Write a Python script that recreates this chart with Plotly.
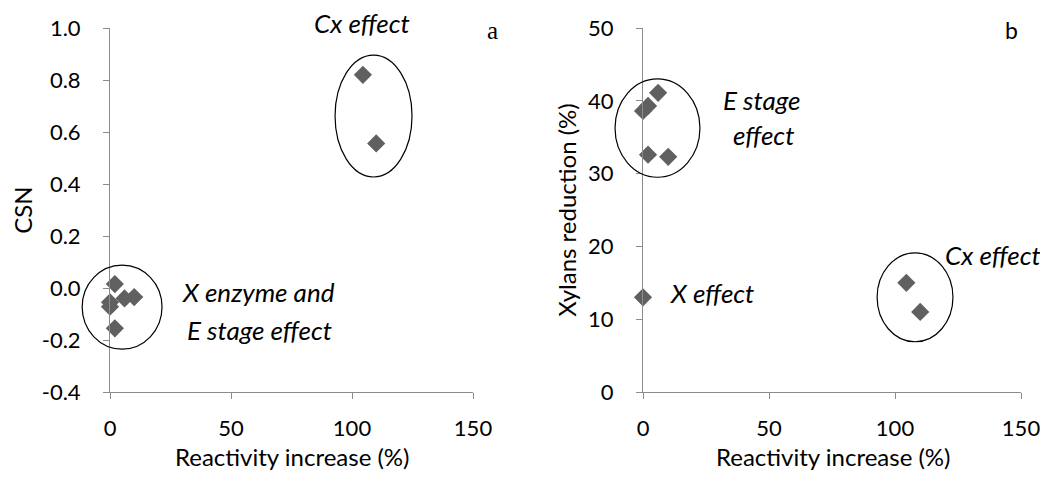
import plotly.graph_objects as go

# Panel a: reactivity increase (%) vs CSN
react_a = [2, 0, 0, 6, 10, 2, 104.5, 110]
csn_a = [0.015, -0.055, -0.072, -0.04, -0.035, -0.155, 0.82, 0.556]

# Panel b: reactivity increase (%) vs xylans reduction (%)
react_b = [6, 2, 0, 2, 10, 0, 104.5, 110]
xyl_b = [41.1, 39.3, 38.6, 32.6, 32.3, 13.0, 15.0, 11.0]

x_ticks = [0, 50, 100, 150]
y_ticks_a = [-0.4, -0.2, 0.0, 0.2, 0.4, 0.6, 0.8, 1.0]
y_ticks_b = [0, 10, 20, 30, 40, 50]

# group ellipses in data units: (x0, x1, y0, y1)
ell_a = [(-11.5, 21.5, -0.235, 0.088), (93, 124.8, 0.427, 0.896)]
ell_b = [(-11.1, 22.6, 29.5, 43.0), (92.9, 123, 6.9, 19.1)]

FONT = "Lato"
GREY = "#8c8c8c"
MARK = "#606060"
OFF = 8                      # page body margin
W, H = 1048 - OFF, 479 - 2 * OFF


def px(x):
    return (x - OFF) / W


def py(y):
    return 1 - (y - OFF) / H


xdom_a = [px(110), px(473)]
xdom_b = [px(643), px(1021)]
ydom = [py(392), py(28)]
xr = [0, 150]
yr_a = [-0.4, 1.0]
yr_b = [0, 50]


def to_paper(v, dom, rng):
    return dom[0] + (v - rng[0]) / (rng[1] - rng[0]) * (dom[1] - dom[0])


fig = go.Figure()
fig.add_trace(go.Scatter(x=react_a, y=csn_a, mode="markers", xaxis="x", yaxis="y", cliponaxis=False,
                         marker=dict(symbol="diamond", size=14, color=MARK), showlegend=False))
fig.add_trace(go.Scatter(x=react_b, y=xyl_b, mode="markers", xaxis="x2", yaxis="y2", cliponaxis=False,
                         marker=dict(symbol="diamond", size=14, color=MARK), showlegend=False))

TICK = 22
TITLE = 24
ANN = 26
axis_common = dict(showgrid=False, zeroline=False, showline=True, linecolor=GREY, linewidth=1,
                   automargin=False, ticks="outside", ticklen=6, tickcolor=GREY,
                   tickfont=dict(family=FONT, size=TICK, color="black"))

fig.update_layout(
    width=W, height=H,
    margin=dict(l=0, r=0, t=0, b=0),
    paper_bgcolor="white", plot_bgcolor="white",
    font=dict(family=FONT, size=TICK, color="black"),
    xaxis=dict(domain=xdom_a, range=xr, tickvals=x_ticks, anchor="y", ticklabelstandoff=11,
               **axis_common),
    yaxis=dict(domain=ydom, range=yr_a, tickvals=y_ticks_a,
               ticktext=[f"{v:.1f}" for v in y_ticks_a], anchor="x", ticklabelstandoff=18,
               title=dict(text="CSN", standoff=20, font=dict(family=FONT, size=TITLE)),
               **axis_common),
    xaxis2=dict(domain=xdom_b, range=xr, tickvals=x_ticks, anchor="y2", ticklabelstandoff=11,
                **axis_common),
    yaxis2=dict(domain=ydom, range=yr_b, tickvals=y_ticks_b, anchor="x2", ticklabelstandoff=18,
                title=dict(text="Xylans reduction (%)", standoff=4, font=dict(family=FONT, size=TITLE)),
                **axis_common),
)

# x-axis titles
for xc in [(110 + 473) / 2 + 1, (643 + 1021) / 2 + 1]:
    fig.add_annotation(xref="paper", yref="paper", x=px(xc), y=py(456), text="Reactivity increase (%)",
                       showarrow=False, xanchor="center", yanchor="middle",
                       font=dict(family=FONT, size=TITLE, color="black"))

ell_style = dict(type="circle", xref="paper", yref="paper", line=dict(color="black", width=1.2),
                 fillcolor="rgba(0,0,0,0)", layer="above")
for (x0, x1, y0, y1) in ell_a:
    fig.add_shape(x0=to_paper(x0, xdom_a, xr), x1=to_paper(x1, xdom_a, xr),
                  y0=to_paper(y0, ydom, yr_a), y1=to_paper(y1, ydom, yr_a), **ell_style)
for (x0, x1, y0, y1) in ell_b:
    fig.add_shape(x0=to_paper(x0, xdom_b, xr), x1=to_paper(x1, xdom_b, xr),
                  y0=to_paper(y0, ydom, yr_b), y1=to_paper(y1, ydom, yr_b), **ell_style)

it = dict(family=FONT, size=ANN, color="black")
ann = [
    dict(x=px(362), y=py(23), text="<i>Cx effect</i>"),
    dict(x=px(258), y=py(292), text="<i>X enzyme and</i>"),
    dict(x=px(259), y=py(330), text="<i>E stage effect</i>"),
    dict(x=px(761), y=py(100), text="<i>E stage</i>"),
    dict(x=px(763), y=py(135), text="<i>effect</i>"),
    dict(x=px(712), y=py(293), text="<i>X effect</i>"),
    dict(x=px(993), y=py(255), text="<i>Cx effect</i>"),
]
for a in ann:
    fig.add_annotation(xref="paper", yref="paper", xanchor="center", yanchor="middle",
                       showarrow=False, font=it, **a)
fig.add_annotation(xref="paper", yref="paper", x=px(492), y=py(30), text="a", showarrow=False,
                   xanchor="center", yanchor="middle",
                   font=dict(family="Liberation Serif", size=25, color="black"))
fig.add_annotation(xref="paper", yref="paper", x=px(1011), y=py(30), text="b", showarrow=False,
                   xanchor="center", yanchor="middle", font=dict(family=FONT, size=23, color="black"))

fig.write_html("out.html")
